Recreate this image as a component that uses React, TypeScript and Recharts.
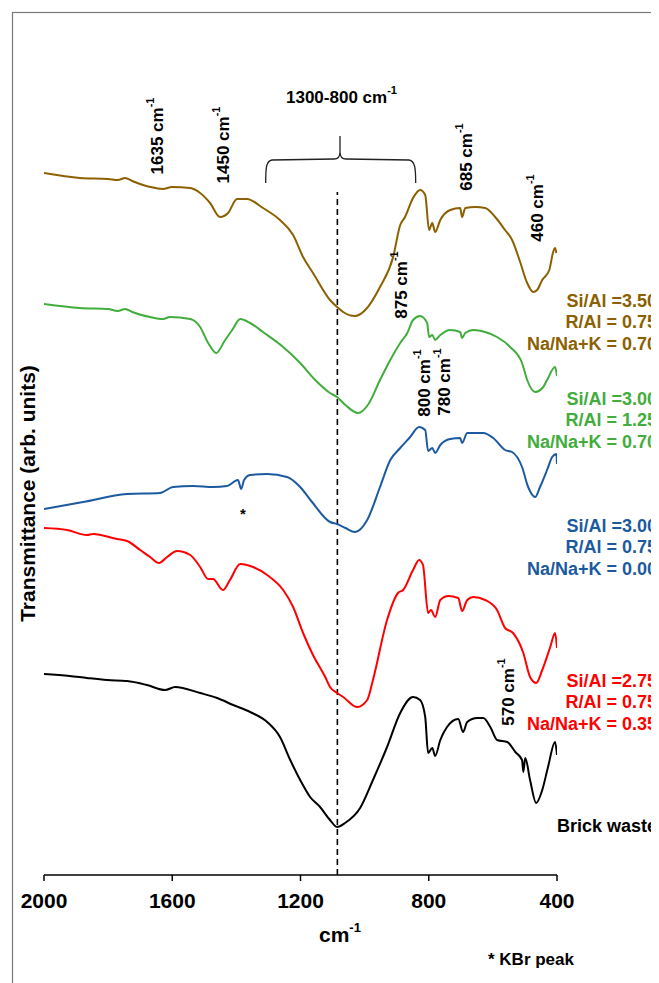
import React from "react";
import { LineChart, Line, XAxis, YAxis, ReferenceLine } from "recharts";

// FTIR spectra (wavenumber in cm-1, transmittance in arbitrary stacked units)
const sample350: [number, number][] = [
  [2000, 702], [1888, 697], [1800, 696], [1770, 695], [1747, 697], [1725, 694], [1669, 688], [1629, 686],
  [1601, 688], [1544, 687], [1513, 682], [1482, 672], [1451, 658], [1426, 662], [1398, 676],
  [1367, 676], [1317, 667], [1264, 655], [1223, 640], [1192, 618], [1161, 602], [1108, 575],
  [1086, 568], [1067, 563], [1030, 559], [998, 565], [952, 588], [911, 618], [889, 650],
  [874, 658], [849, 677], [827, 685], [811, 680], [799, 645], [789, 652], [780, 643],
  [764, 655], [733, 665], [702, 667], [696, 658], [686, 667], [655, 668], [624, 667],
  [593, 658], [562, 645], [540, 635], [515, 613], [493, 592], [474, 583], [462, 585],
  [446, 595], [424, 605], [412, 623], [406, 627], [402, 622],
];

const sample300a: [number, number][] = [
  [2000, 571], [1888, 567], [1800, 566], [1770, 564], [1747, 566], [1725, 563], [1669, 558], [1629, 556],
  [1607, 558], [1544, 556], [1513, 548], [1488, 532], [1463, 522], [1435, 535], [1413, 545],
  [1388, 556], [1357, 552], [1317, 543], [1254, 528], [1201, 512], [1154, 495], [1108, 482],
  [1086, 478], [1060, 470], [1020, 462], [990, 470], [952, 495], [920, 515], [889, 532],
  [867, 542], [849, 555], [827, 559], [805, 552], [799, 538], [789, 540], [780, 535],
  [764, 540], [733, 545], [702, 543], [696, 537], [686, 542], [661, 545], [624, 543],
  [587, 538], [546, 528], [509, 512], [493, 495], [468, 483], [443, 488], [431, 495],
  [406, 508], [400, 499],
];

const sample300b: [number, number][] = [
  [2000, 366], [1878, 373], [1741, 381], [1638, 382], [1598, 388], [1535, 389], [1473, 388],
  [1429, 389], [1395, 395], [1385, 386], [1376, 395], [1357, 400], [1304, 401], [1242, 398],
  [1201, 388], [1164, 373], [1108, 353], [1086, 351], [1060, 347], [1030, 343], [992, 355],
  [952, 388], [920, 415], [889, 427], [858, 438], [830, 448], [811, 445], [802, 424],
  [789, 427], [780, 422], [764, 430], [733, 436], [702, 437], [696, 432], [680, 442],
  [630, 442], [599, 437], [562, 425], [540, 423], [509, 408], [490, 388], [468, 378],
  [453, 388], [431, 405], [415, 418], [402, 421], [400, 411],
];

const sample275: [number, number][] = [
  [2000, 347], [1928, 345], [1866, 340], [1847, 341], [1772, 336], [1741, 334], [1700, 325],
  [1669, 318], [1641, 312], [1616, 318], [1585, 324], [1544, 320], [1513, 308], [1488, 296],
  [1473, 296], [1442, 285], [1420, 295], [1388, 311], [1348, 308], [1304, 300], [1254, 285],
  [1223, 268], [1192, 242], [1161, 220], [1123, 198], [1108, 188], [1086, 182], [1067, 178],
  [1023, 168], [992, 175], [974, 195], [930, 255], [896, 282], [880, 285], [849, 305],
  [830, 315], [818, 310], [802, 262], [793, 265], [780, 258], [764, 275], [739, 279],
  [708, 277], [696, 264], [680, 275], [661, 278], [624, 275], [587, 265], [562, 247],
  [537, 242], [505, 222], [484, 198], [465, 192], [446, 205], [421, 228], [406, 242],
  [400, 227],
];

const brickWaste: [number, number][] = [
  [2000, 201], [1920, 199], [1866, 197], [1803, 195], [1741, 194], [1679, 190], [1622, 185],
  [1591, 188], [1513, 182], [1460, 177], [1410, 170], [1357, 163], [1304, 153], [1264, 138],
  [1232, 115], [1201, 95], [1170, 78], [1139, 68], [1108, 55], [1086, 48], [1061, 52],
  [1014, 67], [974, 95], [930, 128], [889, 162], [849, 178], [827, 175], [811, 158],
  [802, 122], [789, 127], [780, 119], [764, 135], [743, 148], [708, 156], [693, 143],
  [680, 153], [649, 157], [630, 157], [608, 148], [587, 135], [555, 133], [530, 123],
  [509, 115], [505, 103], [499, 117], [484, 95], [465, 72], [446, 85], [428, 108],
  [406, 133], [400, 120],
];

const xTicks = [2000, 1600, 1200, 800, 400];

const labels350 = ["Si/Al =3.50", "R/Al = 0.75", "Na/Na+K = 0.70"];
const labels300a = ["Si/Al =3.00", "R/Al = 1.25", "Na/Na+K = 0.70"];
const labels300b = ["Si/Al =3.00", "R/Al = 0.75", "Na/Na+K = 0.00"];
const labels275 = ["Si/Al =2.75", "R/Al = 0.75", "Na/Na+K = 0.35"];

const BROWN = "#8c6000";
const GREEN = "#41ad3c";
const BLUE = "#1c5aa0";
const RED = "#ff0000";
const BLACK = "#000000";

const toRows = (pts: [number, number][]) => pts.map(([w, t]) => ({ w, t }));

const series = [
  { name: "350", color: BROWN, data: toRows(sample350) },
  { name: "300a", color: GREEN, data: toRows(sample300a) },
  { name: "300b", color: BLUE, data: toRows(sample300b) },
  { name: "275", color: RED, data: toRows(sample275) },
  { name: "brick", color: BLACK, data: toRows(brickWaste) },
];

const W = 651;
const H = 975;
const FONT = "'Liberation Sans', Arial, Helvetica, sans-serif";
const LABEL_RIGHT = 649;

function PeakLabel({ x, y, text }: { x: number; y: number; text: string }) {
  return (
    <text
      x={x}
      y={y}
      transform={`rotate(-90 ${x} ${y})`}
      textAnchor="middle"
      dy="0.36em"
      fontSize={17}
      fontWeight={700}
      fill="#000"
    >
      {text} cm
      <tspan fontSize={11} dy="-0.8em">-1</tspan>
    </text>
  );
}

function SampleLabel({ lines, baseY, color }: { lines: string[]; baseY: number; color: string }) {
  return (
    <g>
      {lines.map((s, i) => (
        <text
          key={s + i}
          x={LABEL_RIGHT}
          y={baseY + i * 21.3}
          textAnchor="end"
          fontSize={18}
          fontWeight={700}
          fill={color}
        >
          {s}
        </text>
      ))}
    </g>
  );
}

export default function App() {
  return (
    <div style={{ position: "relative", width: W, height: H, fontFamily: FONT }}>
      <LineChart
        width={W}
        height={H}
        margin={{ top: 105, right: 102, bottom: 78, left: 36 }}
        style={{ fontFamily: FONT }}
      >
        <XAxis
          type="number"
          dataKey="w"
          domain={[400, 2000]}
          reversed
          ticks={xTicks}
          allowDataOverflow
          height={30}
          axisLine={{ stroke: "#000", strokeWidth: 1.5 }}
          tickLine={{ stroke: "#000", strokeWidth: 1.5 }}
          tickSize={6}
          tickMargin={12}
          tick={{ fontSize: 21, fontWeight: 700, fill: "#000", fontFamily: FONT }}
        />
        <YAxis
          type="number"
          domain={[0, 762]}
          width={0}
          tick={false}
          tickLine={false}
          axisLine={{ stroke: "#6e6e6e", strokeWidth: 1.3 }}
        />
        <ReferenceLine
          segment={[
            { x: 1085, y: 0 },
            { x: 1085, y: 683 },
          ]}
          stroke="#000"
          strokeWidth={1.6}
          strokeDasharray="6 4"
        />
        {series.map((s) => (
          <Line
            key={s.name}
            data={s.data}
            dataKey="t"
            type="monotone"
            stroke={s.color}
            strokeWidth={2}
            dot={false}
            activeDot={false}
            isAnimationActive={false}
          />
        ))}
      </LineChart>
      <svg
        width={W}
        height={H}
        style={{ position: "absolute", left: 0, top: 0, pointerEvents: "none", fontFamily: FONT }}
      >
        {/* frame */}
        <rect x={4.5} y={4.5} width={700} height={1000} fill="none" stroke="#7a7a7a" strokeWidth={1.2} />

        {/* bracket over the 1300-800 band */}
        <path
          d="M 257.7 175 C 257.7 160, 258 153, 264 152 L 326 151 Q 332 151 332 144 L 332 128 M 332 144 Q 332 151 338 151 L 401 152 C 407 153, 407.7 160, 407.7 175"
          fill="none"
          stroke="#222"
          strokeWidth={1.3}
        />
        <text x={278} y={95} fontSize={17} fontWeight={700} fill="#000">
          1300-800 cm
          <tspan fontSize={11} dy="-0.8em">-1</tspan>
        </text>

        <PeakLabel x={149} y={128} text="1635" />
        <PeakLabel x={215} y={137} text="1450" />
        <PeakLabel x={457.5} y={149} text="685" />
        <PeakLabel x={528.5} y={200} text="460" />
        <PeakLabel x={393} y={277} text="875" />
        <PeakLabel x={415.5} y={375} text="800" />
        <PeakLabel x={436} y={374} text="780" />
        <PeakLabel x={500} y={684} text="570" />

        <text x={235} y={511} textAnchor="middle" fontSize={15} fontWeight={700} fill="#000">
          *
        </text>

        <SampleLabel lines={labels350} baseY={299} color={BROWN} />
        <SampleLabel lines={labels300a} baseY={397} color={GREEN} />
        <SampleLabel lines={labels300b} baseY={524} color={BLUE} />
        <SampleLabel lines={labels275} baseY={679} color={RED} />
        <text x={LABEL_RIGHT} y={824} textAnchor="end" fontSize={18} fontWeight={700} fill="#000">
          Brick waste
        </text>

        {/* axis titles */}
        <text
          x={19}
          y={485.5}
          transform={`rotate(-90 19 485.5)`}
          textAnchor="middle"
          dy="0.36em"
          fontSize={21}
          fontWeight={700}
          fill="#000"
        >
          Transmittance (arb. units)
        </text>
        <text x={311} y={934} fontSize={21} fontWeight={700} fill="#000">
          cm
          <tspan fontSize={13} dy="-0.75em">-1</tspan>
        </text>
        <text x={480} y={957} fontSize={17} fontWeight={700} fill="#000">
          * KBr peak
        </text>
      </svg>
    </div>
  );
}
